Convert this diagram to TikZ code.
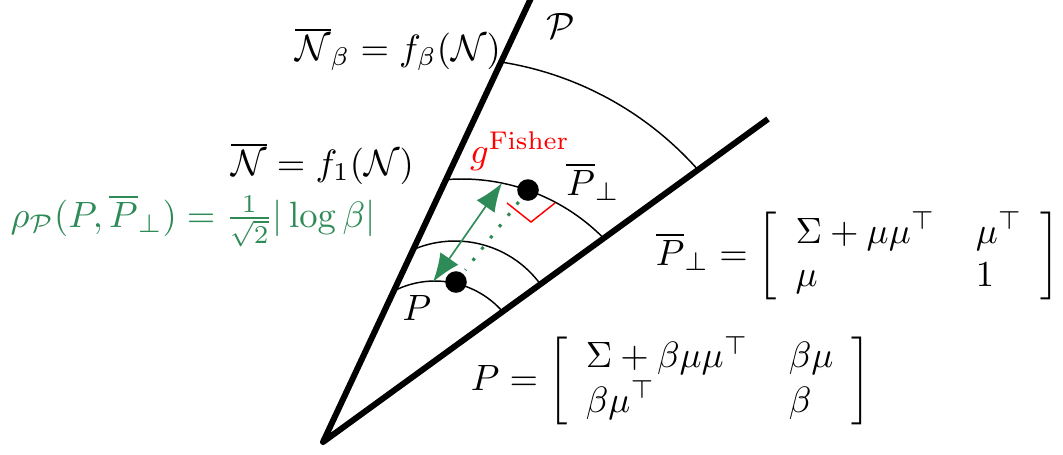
\documentclass[tikz,border=0pt]{standalone}
\usepackage{amsmath}
\usetikzlibrary{arrows.meta}
\definecolor{sgreen}{RGB}{46,139,87}
\begin{document}
\begin{tikzpicture}[x=0.2732pt,y=-0.2732pt,
  lbl/.style={inner sep=0pt, outer sep=0pt},
  dot/.style={circle, fill=black, inner sep=0pt, minimum size=5.9pt},
  thinarc/.style={line width=0.4pt},
  wedge/.style={line width=1.64pt, line join=round},
  ghead/.tip={Latex[length=7.8pt,width=6pt]}]
\useasboundingbox (0,0) rectangle (1063,454);
\coordinate (apex) at (323,442);
\coordinate (top) at (532,-4);
\coordinate (right) at (768,119);
% arcs
\begin{scope}
\clip (323,442) -- (574,-93) -- (857,54) -- cycle;
\draw[thinarc] ([shift={(-83:332)}]449.5,390) arc[start angle=-83,end angle=-39,radius=332];
\draw[thinarc] ([shift={(-98:199)}]462,378) arc[start angle=-98,end angle=-42,radius=199];
\draw[thinarc] ([shift={(-118:106)}]455,347) arc[start angle=-118,end angle=-33,radius=106];
\draw[thinarc] ([shift={(-122:90)}]435,371) arc[start angle=-122,end angle=-38,radius=90];
\end{scope}
% wedge
\draw[wedge] (top) -- (apex) -- (right);
% dots
\node[dot] (Pb) at (528,190) {};
\node[dot] (P) at (456,282) {};
% red right angle
\coordinate (r1) at (507,203);
\coordinate (r2) at (531,222);
\coordinate (r3) at (555,203);
\draw[red, line width=0.4pt] (r1) -- (r2) -- (r3);
% green dotted
\draw[sgreen, line width=0.85pt, dash pattern=on 0.85pt off 3.05pt, shorten <=1pt, shorten >=1pt] (Pb) -- (P);
% green arrow
\coordinate (ga) at (502,183);
\coordinate (gb) at (433,282);
\draw[sgreen, line width=0.45pt, ghead-ghead] (gb) -- (ga);
% labels
\node[lbl, anchor=base] (Nb) at (398,60) {$\overline{\mathcal N}_\beta = f_\beta(\mathcal N)$};
\node[lbl, anchor=base] (N1) at (322.5,175) {$\overline{\mathcal N} = f_1(\mathcal N)$};
\node[lbl, anchor=base] (cP) at (561,38) {$\mathcal P$};
\node[lbl, anchor=base, red] (g) at (520,163) {$g^{\mathrm{Fisher}}$};
\node[lbl, anchor=base] (Pbl) at (593,195) {$\overline P_\perp$};
\node[lbl, anchor=base] (Pl) at (417,320) {$P$};
\node[lbl, anchor=base, sgreen] (rho) at (193,227) {$\rho_{\mathcal P}(P,\overline P_\perp) = \frac{1}{\sqrt2}|\log\beta|$};
\node[lbl] (Pbm) at (858,256) {$\overline P_\perp = \left[\begin{array}{l@{\hspace{11pt}}l} \Sigma+\mu\mu^\top & \mu^\top\\ \mu & 1\end{array}\right]$};
\node[lbl] (Pm) at (671,381) {$P = \left[\begin{array}{l@{\hspace{11pt}}l} \Sigma+\beta\mu\mu^\top & \beta\mu\\ \beta\mu^\top & \beta\end{array}\right]$};
\end{tikzpicture}
\end{document}
